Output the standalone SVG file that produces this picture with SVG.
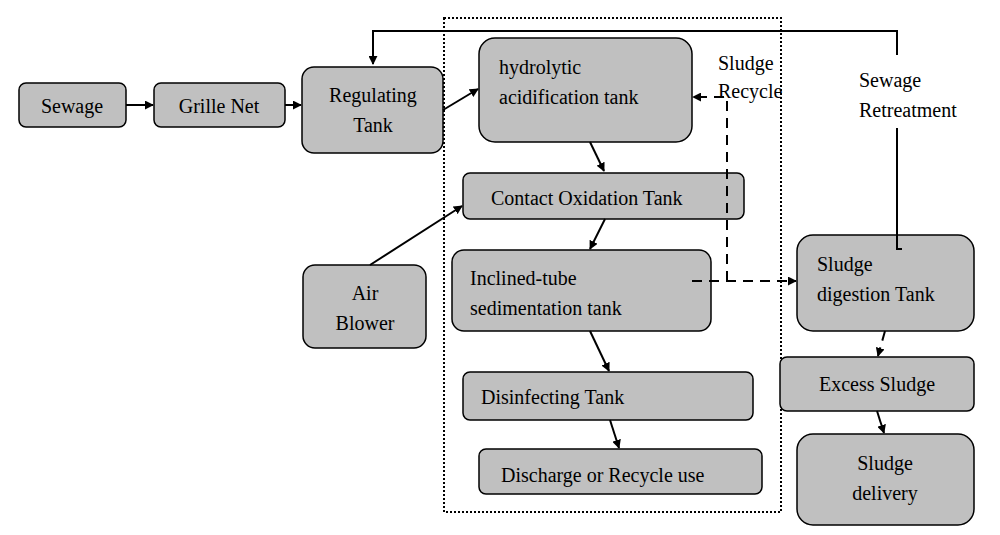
<svg xmlns="http://www.w3.org/2000/svg" width="1000" height="535" viewBox="0 0 1000 535">
<defs>
<marker id="ah" viewBox="0 0 10 10" refX="9" refY="5" markerWidth="9" markerHeight="9" markerUnits="userSpaceOnUse" orient="auto"><path d="M0,0L10,5L0,10z" fill="#000"/></marker>
<style>
.n rect{fill:#c0c0c0;stroke:#000;stroke-width:1.5}
text{font-family:"Liberation Serif",serif;font-size:20px;fill:#000}
.c line,.c path{stroke:#000;stroke-width:2;fill:none}
.d{stroke-dasharray:10,7}
</style>
</defs>
<rect width="1000" height="535" fill="#fff"/>
<rect x="444" y="18" width="337" height="494" fill="none" stroke="#000" stroke-width="2" stroke-dasharray="2,2"/>
<g class="n" id="sewage"><rect x="19" y="83" width="107" height="44" rx="7"/><text x="72" y="113" text-anchor="middle">Sewage</text></g>
<g class="n" id="grille"><rect x="154" y="83" width="131" height="44" rx="7"/><text x="219" y="113" text-anchor="middle">Grille Net</text></g>
<g class="n" id="reg"><rect x="302" y="67" width="141" height="86" rx="12"/><text x="373" y="102" text-anchor="middle">Regulating</text><text x="373" y="132" text-anchor="middle">Tank</text></g>
<g class="n" id="hydro"><rect x="479" y="38" width="213" height="104" rx="16"/><text x="499" y="74">hydrolytic</text><text x="499" y="104">acidification tank</text></g>
<g class="n" id="contact"><rect x="463" y="173" width="281" height="46" rx="7"/><text x="491" y="205">Contact Oxidation Tank</text></g>
<g class="n" id="incl"><rect x="452" y="250" width="259" height="81" rx="12"/><text x="470" y="285">Inclined-tube</text><text x="470" y="315">sedimentation tank</text></g>
<g class="n" id="dis"><rect x="463" y="372" width="290" height="48" rx="7"/><text x="481" y="404">Disinfecting Tank</text></g>
<g class="n" id="dischg"><rect x="479" y="449" width="283" height="45" rx="7"/><text x="501" y="482">Discharge or Recycle use</text></g>
<g class="n" id="air"><rect x="303" y="265" width="123" height="83" rx="12"/><text x="365" y="300" text-anchor="middle">Air</text><text x="365" y="330" text-anchor="middle">Blower</text></g>
<g class="n" id="digest"><rect x="797" y="235" width="177" height="96" rx="16"/><text x="817" y="271">Sludge</text><text x="817" y="301">digestion Tank</text></g>
<g class="n" id="excess"><rect x="780" y="357" width="194" height="54" rx="7"/><text x="877" y="391" text-anchor="middle">Excess Sludge</text></g>
<g class="n" id="delivery"><rect x="797" y="434" width="177" height="91" rx="16"/><text x="885" y="470" text-anchor="middle">Sludge</text><text x="885" y="500" text-anchor="middle">delivery</text></g>
<text x="718" y="70" font-size="18">Sludge</text>
<text x="718" y="98" font-size="18">Recycle</text>
<text x="859" y="87" font-size="18">Sewage</text>
<text x="859" y="117" font-size="18">Retreatment</text>
<g class="c" id="connectors">
<line x1="126" y1="105" x2="153" y2="105" marker-end="url(#ah)"/>
<line x1="285" y1="105" x2="301" y2="105" marker-end="url(#ah)"/>
<line x1="443" y1="110" x2="478" y2="89" marker-end="url(#ah)"/>
<line x1="590" y1="142" x2="604" y2="171" marker-end="url(#ah)"/>
<line x1="370" y1="265" x2="462" y2="206" marker-end="url(#ah)"/>
<line x1="605" y1="219" x2="590" y2="249" marker-end="url(#ah)"/>
<line x1="590" y1="331" x2="609" y2="371" marker-end="url(#ah)"/>
<line x1="610" y1="420" x2="619" y2="448" marker-end="url(#ah)"/>
<line x1="877" y1="411" x2="884" y2="433" marker-end="url(#ah)"/>
<line class="d" x1="885" y1="331" x2="878" y2="356" marker-end="url(#ah)"/>
<line class="d" x1="692" y1="281" x2="796" y2="281" marker-end="url(#ah)"/>
<path class="d" d="M727,281V97H693" marker-end="url(#ah)"/>
<path d="M902,249H897V128"/>
<path d="M897,55V31H373V64" marker-end="url(#ah)"/>
</g>
</svg>
